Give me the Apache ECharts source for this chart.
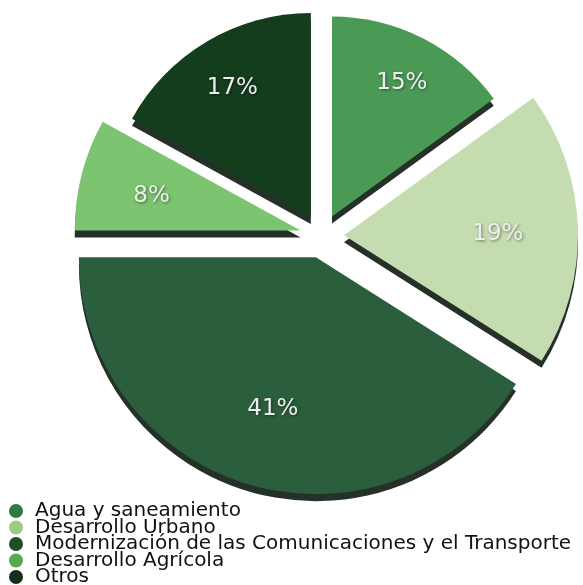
<!DOCTYPE html>
<html>
<head>
<meta charset="utf-8">
<script src="https://cdn.jsdelivr.net/npm/echarts@6/dist/echarts.min.js"></script>
<style>
html, body { margin: 0; padding: 0; background: #fff; }
#chart { width: 583px; height: 585px; }
</style>
</head>
<body>
<div id="chart"></div>
<script>
const categories = [
    'Agua y saneamiento',
    'Desarrollo Urbano',
    'Modernización de las Comunicaciones y el Transporte',
    'Desarrollo Agrícola',
    'Otros'
]
const values = [15, 19, 41, 8, 17]
const sliceColors = ['#4a9a55', '#c5dcb0', '#2b5e3c', '#7cc46f', '#143d1e']
const legendColors = ['#2f7a40', '#9ccb84', '#1f4d2c', '#5aa851', '#142e19']
// the picture is drawn in perspective: far slices look shorter
const sliceRadius = [200, 234, 237, 226, 204]

const chart = echarts.init(document.getElementById('chart'))

const center = [322, 236]

// one pie per slice, so each slice can have its own radius
const sliceSeries = categories.map((cat, k) => ({
    name: 'slice' + k,
    type: 'pie',
    center: center,
    radius: sliceRadius[k],
    startAngle: 90,
    clockwise: true,
    selectedMode: 'multiple',
    selectedOffset: 22,
    silent: true,
    legendHoverLink: false,
    label: {show: false},
    labelLine: {show: false},
    emphasis: {disabled: true},
    data: categories.map((name, i) => ({
        name: name,
        value: values[i],
        selected: true,
        itemStyle: i === k ? {
            color: sliceColors[i],
            shadowColor: '#243028',
            shadowBlur: 0,
            shadowOffsetX: 0,
            shadowOffsetY: 7
        } : {color: 'rgba(0,0,0,0)'}
    })),
    z: 2
}))

const labelSeries = {
    name: 'labels',
    type: 'pie',
    center: [322, 240],
    radius: [78, 224],
    startAngle: 90,
    clockwise: true,
    selectedMode: 'multiple',
    selectedOffset: 22,
    silent: true,
    legendHoverLink: false,
    emphasis: {disabled: true},
    label: {
        show: true,
        position: 'inside',
        formatter: '{c}%',
        fontFamily: 'DejaVu Sans',
        fontSize: 23,
        color: '#eeeeee',
        textShadowColor: 'rgba(0,0,0,0.45)',
        textShadowBlur: 3,
        textShadowOffsetX: 1,
        textShadowOffsetY: 1
    },
    data: categories.map((name, i) => ({
        name: name,
        value: values[i],
        selected: true,
        itemStyle: {color: 'rgba(0,0,0,0)'}
    })),
    z: 3
}

const option = {
    animation: false,
    legend: {
        orient: 'vertical',
        left: 9,
        top: 501,
        height: 200,
        padding: 0,
        icon: 'circle',
        itemWidth: 14,
        itemHeight: 14,
        itemGap: -3.5,
        selectedMode: false,
        data: categories.map((name, i) => ({
            name: name,
            itemStyle: {color: legendColors[i]}
        })),
        textStyle: {
            fontFamily: 'DejaVu Sans',
            fontSize: 20,
            color: '#111',
            padding: [0, 0, 0, 7]
        }
    },
    series: sliceSeries.concat([labelSeries])
}

chart.setOption(option)
</script>
</body>
</html>
